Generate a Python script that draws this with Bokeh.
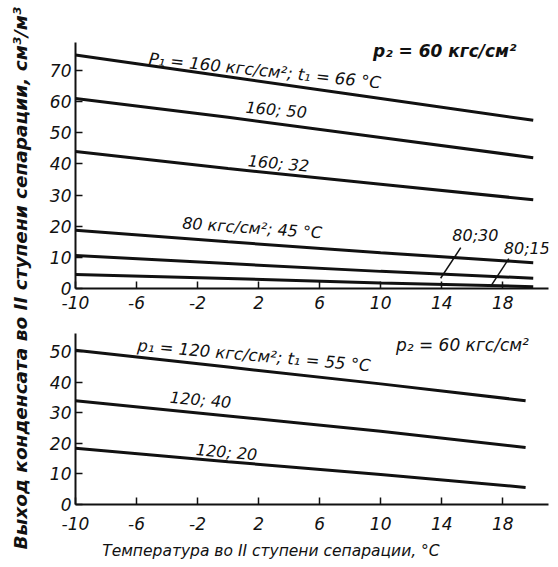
import math
from bokeh.plotting import figure
from bokeh.layouts import row, column
from bokeh.models import FixedTicker, Label, Arrow
from bokeh.embed import file_html
from bokeh.resources import INLINE

# ---- data ----
x_ticks = [-10, -6, -2, 2, 6, 10, 14, 18]
x_tick_labels = {-10: "-10", -6: "-6", -2: "-2"}
top_y_ticks = [0, 10, 20, 30, 40, 50, 60, 70]
bot_y_ticks = [0, 10, 20, 30, 40, 50]

x_top = [-10, 0, 10, 20]
y_160_66 = [75.0, 68.0, 61.0, 54.0]
y_160_50 = [61.0, 55.0, 48.5, 42.0]
y_160_32 = [44.0, 38.5, 33.5, 28.5]
y_80_45 = [18.7, 15.0, 11.5, 8.3]
y_80_30 = [10.6, 8.0, 5.5, 3.3]
y_80_15 = [4.5, 3.2, 1.8, 0.6]

x_bot = [-10, 0, 10, 19.5]
y_120_55 = [50.5, 45.0, 39.5, 34.0]
y_120_40 = [34.0, 29.0, 24.0, 18.7]
y_120_20 = [18.4, 14.0, 9.8, 5.6]

FONT = "DejaVu Sans"
INK = "#111111"


def style(p):
    p.xgrid.visible = False
    p.ygrid.visible = False
    p.outline_line_color = None
    p.background_fill_color = "white"
    p.border_fill_color = "white"
    p.xaxis.ticker = FixedTicker(ticks=x_ticks)
    p.xaxis.major_label_overrides = x_tick_labels
    for ax in p.axis:
        ax.major_tick_in = 7
        ax.major_tick_out = 0
        ax.minor_tick_in = 0
        ax.minor_tick_out = 0
        ax.axis_line_width = 2
        ax.axis_line_color = INK
        ax.major_tick_line_width = 1.5
        ax.major_tick_line_color = INK
        ax.major_label_text_font = FONT
        ax.major_label_text_font_style = "italic"
        ax.major_label_text_font_size = "17px"
        ax.major_label_text_color = INK
    p.yaxis.major_label_standoff = 4


def lab(p, x, y, text, angle_deg=0.0, size="16px", style_="italic", align="left"):
    p.add_layout(Label(x=x, y=y, text=text, angle=math.radians(angle_deg),
                       text_font=FONT, text_font_style=style_, text_font_size=size,
                       text_color=INK, text_align=align, text_baseline="middle"))


def strip(w, h):
    s = figure(width=w, height=h, x_range=(0, 1), y_range=(0, 1),
               output_backend="svg", toolbar_location=None,
               x_axis_location=None, y_axis_location=None,
               min_border_left=0, min_border_right=0, min_border_top=0, min_border_bottom=0)
    s.xgrid.visible = False
    s.ygrid.visible = False
    s.outline_line_color = None
    return s


# ---- top panel ----
top = figure(width=518, height=318, x_range=(-10, 21), y_range=(0, 79),
             output_backend="svg", toolbar_location=None,
             min_border_left=35, min_border_right=10, min_border_top=42, min_border_bottom=30)
style(top)
top.yaxis.ticker = FixedTicker(ticks=top_y_ticks)
top.xaxis.major_label_standoff = 7
for ys in (y_160_66, y_160_50, y_160_32, y_80_45, y_80_30, y_80_15):
    top.line(x_top, ys, line_width=3, line_color=INK)

lab(top, -5.2, 73.8, "P₁ = 160 кгс/см²; t₁ = 66 °C", angle_deg=-6, size="16.5px")
lab(top, 9.5, 76.3, "p₂ = 60 кгс/см²", size="17px", style_="bold italic")
lab(top, 1.15, 58.2, "160; 50", angle_deg=-5)
lab(top, 1.3, 41.0, "160; 32", angle_deg=-5)
lab(top, -3.0, 21.0, "80 кгс/см²; 45 °C", angle_deg=-4)
lab(top, 14.7, 17.0, "80;30")
lab(top, 18.07, 12.8, "80;15")
top.add_layout(Arrow(end=None, x_start=13.93, y_start=3.3, x_end=15.25, y_end=13.1,
                     line_color=INK, line_width=1.5))
top.add_layout(Arrow(end=None, x_start=17.2, y_start=0.6, x_end=18.4, y_end=9.6,
                     line_color=INK, line_width=1.5))

# ---- bottom panel ----
bot = figure(width=518, height=222, x_range=(-10, 21), y_range=(0, 56),
             output_backend="svg", toolbar_location=None,
             min_border_left=35, min_border_right=10, min_border_top=15, min_border_bottom=36)
style(bot)
bot.yaxis.ticker = FixedTicker(ticks=bot_y_ticks)
bot.xaxis.major_label_standoff = 12
for ys in (y_120_55, y_120_40, y_120_20):
    bot.line(x_bot, ys, line_width=3, line_color=INK)

lab(bot, -5.93, 52.1, "p₁ = 120 кгс/см²; t₁ = 55 °C", angle_deg=-5, size="16.5px")
lab(bot, 11.0, 52.3, "p₂ = 60 кгс/см²", size="17px")
lab(bot, -3.8, 35.1, "120; 40", angle_deg=-5)
lab(bot, -2.1, 18.0, "120; 20", angle_deg=-5)

# ---- x title strip ----
xt = strip(518, 27)
xt.add_layout(Label(x=(254 - 40) / 518, y=0.6,
                    text="Температура во II ступени сепарации, °C",
                    text_font=FONT, text_font_style="italic", text_font_size="15.5px",
                    text_color=INK, text_align="center", text_baseline="middle"))

# ---- left title strip ----
ttl = strip(40, 567)
ttl.add_layout(Label(x=0.5, y=0.51, text="Выход конденсата во II ступени сепарации, см³/м³",
                     angle=math.pi / 2, text_font=FONT, text_font_style="bold italic",
                     text_font_size="18.5px", text_color=INK,
                     text_align="center", text_baseline="middle"))

layout = row(ttl, column(top, bot, xt, spacing=0), spacing=0)

open("out.html", "w").write(file_html(layout, INLINE))
